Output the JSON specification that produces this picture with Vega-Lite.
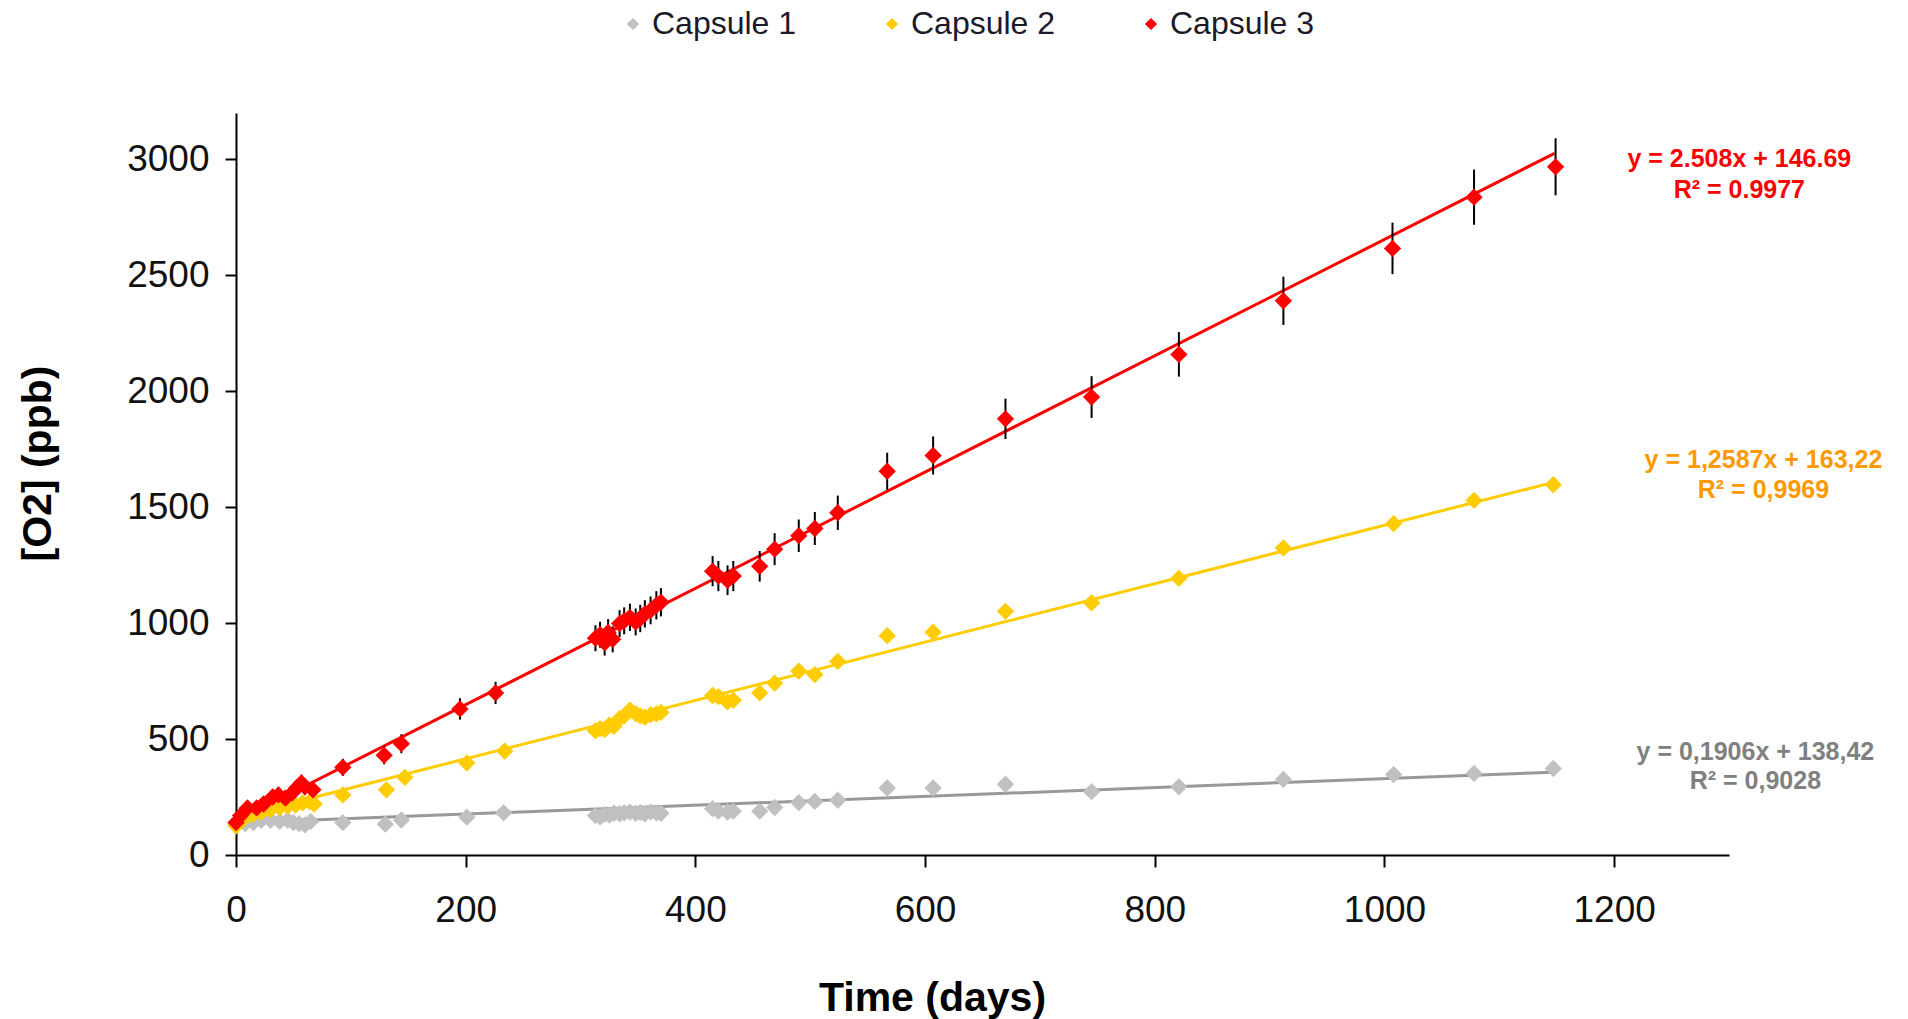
{
  "$schema": "https://vega.github.io/schema/vega-lite/v6.json",
  "autosize": {"type": "none"},
  "padding": {"left": 236, "top": 113, "right": 179, "bottom": 164},
  "width": 1493,
  "height": 742,
  "background": "white",
  "config": {
    "view": {"stroke": null},
    "font": "Liberation Sans",
    "axis": {"grid": false, "labelFont": "Liberation Sans", "titleFont": "Liberation Sans", "labelColor": "#111111", "titleColor": "#000000", "domainColor": "#000000", "tickColor": "#000000", "domainWidth": 2, "tickWidth": 2, "labelFlush": false, "labelOverlap": false}
  },
  "datasets": {
    "obs": [
      {"series": "Capsule 1", "day": 0, "ppb": 130},
      {"series": "Capsule 1", "day": 8, "ppb": 135},
      {"series": "Capsule 1", "day": 15, "ppb": 140},
      {"series": "Capsule 1", "day": 22, "ppb": 150},
      {"series": "Capsule 1", "day": 30, "ppb": 150},
      {"series": "Capsule 1", "day": 38, "ppb": 145},
      {"series": "Capsule 1", "day": 45, "ppb": 150},
      {"series": "Capsule 1", "day": 50, "ppb": 140},
      {"series": "Capsule 1", "day": 55, "ppb": 135},
      {"series": "Capsule 1", "day": 60, "ppb": 130},
      {"series": "Capsule 1", "day": 65, "ppb": 145},
      {"series": "Capsule 1", "day": 93, "ppb": 140},
      {"series": "Capsule 1", "day": 130, "ppb": 133},
      {"series": "Capsule 1", "day": 144, "ppb": 151},
      {"series": "Capsule 1", "day": 201, "ppb": 163},
      {"series": "Capsule 1", "day": 233, "ppb": 182},
      {"series": "Capsule 1", "day": 313, "ppb": 170},
      {"series": "Capsule 1", "day": 317, "ppb": 165},
      {"series": "Capsule 1", "day": 321, "ppb": 175},
      {"series": "Capsule 1", "day": 325, "ppb": 172},
      {"series": "Capsule 1", "day": 329, "ppb": 180},
      {"series": "Capsule 1", "day": 334, "ppb": 178},
      {"series": "Capsule 1", "day": 338, "ppb": 182},
      {"series": "Capsule 1", "day": 343, "ppb": 185},
      {"series": "Capsule 1", "day": 348, "ppb": 180},
      {"series": "Capsule 1", "day": 352, "ppb": 183},
      {"series": "Capsule 1", "day": 356, "ppb": 178},
      {"series": "Capsule 1", "day": 361, "ppb": 185},
      {"series": "Capsule 1", "day": 366, "ppb": 182},
      {"series": "Capsule 1", "day": 370, "ppb": 180},
      {"series": "Capsule 1", "day": 415, "ppb": 200},
      {"series": "Capsule 1", "day": 420, "ppb": 189},
      {"series": "Capsule 1", "day": 428, "ppb": 185},
      {"series": "Capsule 1", "day": 433, "ppb": 189},
      {"series": "Capsule 1", "day": 456, "ppb": 189},
      {"series": "Capsule 1", "day": 469, "ppb": 205},
      {"series": "Capsule 1", "day": 490, "ppb": 226},
      {"series": "Capsule 1", "day": 504, "ppb": 231},
      {"series": "Capsule 1", "day": 524, "ppb": 236},
      {"series": "Capsule 1", "day": 567, "ppb": 289},
      {"series": "Capsule 1", "day": 607, "ppb": 289},
      {"series": "Capsule 1", "day": 670, "ppb": 305},
      {"series": "Capsule 1", "day": 745, "ppb": 273},
      {"series": "Capsule 1", "day": 821, "ppb": 294},
      {"series": "Capsule 1", "day": 912, "ppb": 326},
      {"series": "Capsule 1", "day": 1008, "ppb": 347},
      {"series": "Capsule 1", "day": 1078, "ppb": 352},
      {"series": "Capsule 1", "day": 1147, "ppb": 373},
      {"series": "Capsule 2", "day": 0, "ppb": 125},
      {"series": "Capsule 2", "day": 5, "ppb": 150},
      {"series": "Capsule 2", "day": 10, "ppb": 170},
      {"series": "Capsule 2", "day": 15, "ppb": 175},
      {"series": "Capsule 2", "day": 22, "ppb": 185},
      {"series": "Capsule 2", "day": 30, "ppb": 195},
      {"series": "Capsule 2", "day": 38, "ppb": 205},
      {"series": "Capsule 2", "day": 45, "ppb": 210},
      {"series": "Capsule 2", "day": 52, "ppb": 215},
      {"series": "Capsule 2", "day": 58, "ppb": 225},
      {"series": "Capsule 2", "day": 64, "ppb": 230},
      {"series": "Capsule 2", "day": 68, "ppb": 220},
      {"series": "Capsule 2", "day": 93, "ppb": 259},
      {"series": "Capsule 2", "day": 131, "ppb": 281},
      {"series": "Capsule 2", "day": 147, "ppb": 335},
      {"series": "Capsule 2", "day": 201, "ppb": 397},
      {"series": "Capsule 2", "day": 234, "ppb": 448},
      {"series": "Capsule 2", "day": 313, "ppb": 536},
      {"series": "Capsule 2", "day": 317, "ppb": 545},
      {"series": "Capsule 2", "day": 321, "ppb": 541},
      {"series": "Capsule 2", "day": 325, "ppb": 560},
      {"series": "Capsule 2", "day": 329, "ppb": 555},
      {"series": "Capsule 2", "day": 334, "ppb": 588},
      {"series": "Capsule 2", "day": 338, "ppb": 600},
      {"series": "Capsule 2", "day": 343, "ppb": 625},
      {"series": "Capsule 2", "day": 348, "ppb": 610},
      {"series": "Capsule 2", "day": 352, "ppb": 600},
      {"series": "Capsule 2", "day": 356, "ppb": 594},
      {"series": "Capsule 2", "day": 361, "ppb": 605},
      {"series": "Capsule 2", "day": 366, "ppb": 609},
      {"series": "Capsule 2", "day": 370, "ppb": 615},
      {"series": "Capsule 2", "day": 415, "ppb": 688},
      {"series": "Capsule 2", "day": 420, "ppb": 683},
      {"series": "Capsule 2", "day": 428, "ppb": 660},
      {"series": "Capsule 2", "day": 433, "ppb": 667},
      {"series": "Capsule 2", "day": 456, "ppb": 699},
      {"series": "Capsule 2", "day": 469, "ppb": 741},
      {"series": "Capsule 2", "day": 490, "ppb": 793},
      {"series": "Capsule 2", "day": 504, "ppb": 778},
      {"series": "Capsule 2", "day": 524, "ppb": 835},
      {"series": "Capsule 2", "day": 567, "ppb": 946},
      {"series": "Capsule 2", "day": 607, "ppb": 961},
      {"series": "Capsule 2", "day": 670, "ppb": 1051},
      {"series": "Capsule 2", "day": 745, "ppb": 1088},
      {"series": "Capsule 2", "day": 821, "ppb": 1193},
      {"series": "Capsule 2", "day": 912, "ppb": 1324},
      {"series": "Capsule 2", "day": 1008, "ppb": 1429},
      {"series": "Capsule 2", "day": 1078, "ppb": 1529},
      {"series": "Capsule 2", "day": 1147, "ppb": 1597},
      {"series": "Capsule 3", "day": 0, "ppb": 140, "err": 30},
      {"series": "Capsule 3", "day": 4, "ppb": 170, "err": 30},
      {"series": "Capsule 3", "day": 10, "ppb": 203, "err": 32},
      {"series": "Capsule 3", "day": 18, "ppb": 203, "err": 32},
      {"series": "Capsule 3", "day": 24, "ppb": 220, "err": 32},
      {"series": "Capsule 3", "day": 32, "ppb": 250, "err": 33},
      {"series": "Capsule 3", "day": 37, "ppb": 259, "err": 34},
      {"series": "Capsule 3", "day": 43, "ppb": 245, "err": 33},
      {"series": "Capsule 3", "day": 49, "ppb": 268, "err": 34},
      {"series": "Capsule 3", "day": 53, "ppb": 290, "err": 35},
      {"series": "Capsule 3", "day": 57, "ppb": 311, "err": 35},
      {"series": "Capsule 3", "day": 60, "ppb": 294, "err": 35},
      {"series": "Capsule 3", "day": 67, "ppb": 281, "err": 34},
      {"series": "Capsule 3", "day": 93, "ppb": 378, "err": 37},
      {"series": "Capsule 3", "day": 129, "ppb": 430, "err": 39},
      {"series": "Capsule 3", "day": 144, "ppb": 480, "err": 41},
      {"series": "Capsule 3", "day": 195, "ppb": 630, "err": 46},
      {"series": "Capsule 3", "day": 226, "ppb": 699, "err": 48},
      {"series": "Capsule 3", "day": 313, "ppb": 935, "err": 56},
      {"series": "Capsule 3", "day": 317, "ppb": 950, "err": 56},
      {"series": "Capsule 3", "day": 321, "ppb": 915, "err": 55},
      {"series": "Capsule 3", "day": 324, "ppb": 960, "err": 57},
      {"series": "Capsule 3", "day": 328, "ppb": 930, "err": 56},
      {"series": "Capsule 3", "day": 334, "ppb": 998, "err": 58},
      {"series": "Capsule 3", "day": 338, "ppb": 1010, "err": 58},
      {"series": "Capsule 3", "day": 343, "ppb": 1025, "err": 59},
      {"series": "Capsule 3", "day": 348, "ppb": 1005, "err": 58},
      {"series": "Capsule 3", "day": 352, "ppb": 1020, "err": 59},
      {"series": "Capsule 3", "day": 356, "ppb": 1040, "err": 59},
      {"series": "Capsule 3", "day": 361, "ppb": 1055, "err": 60},
      {"series": "Capsule 3", "day": 366, "ppb": 1077, "err": 61},
      {"series": "Capsule 3", "day": 370, "ppb": 1090, "err": 61},
      {"series": "Capsule 3", "day": 415, "ppb": 1224, "err": 65},
      {"series": "Capsule 3", "day": 420, "ppb": 1203, "err": 65},
      {"series": "Capsule 3", "day": 428, "ppb": 1185, "err": 64},
      {"series": "Capsule 3", "day": 433, "ppb": 1203, "err": 65},
      {"series": "Capsule 3", "day": 456, "ppb": 1245, "err": 66},
      {"series": "Capsule 3", "day": 469, "ppb": 1319, "err": 69},
      {"series": "Capsule 3", "day": 490, "ppb": 1377, "err": 70},
      {"series": "Capsule 3", "day": 504, "ppb": 1408, "err": 71},
      {"series": "Capsule 3", "day": 524, "ppb": 1476, "err": 74},
      {"series": "Capsule 3", "day": 567, "ppb": 1655, "err": 80},
      {"series": "Capsule 3", "day": 607, "ppb": 1723, "err": 82},
      {"series": "Capsule 3", "day": 670, "ppb": 1881, "err": 87},
      {"series": "Capsule 3", "day": 745, "ppb": 1975, "err": 90},
      {"series": "Capsule 3", "day": 821, "ppb": 2159, "err": 96},
      {"series": "Capsule 3", "day": 912, "ppb": 2390, "err": 104},
      {"series": "Capsule 3", "day": 1007, "ppb": 2616, "err": 111},
      {"series": "Capsule 3", "day": 1078, "ppb": 2837, "err": 119},
      {"series": "Capsule 3", "day": 1149, "ppb": 2968, "err": 123}
    ],
    "fits": [
      {"series": "Capsule 1", "day": 0, "ppb": 138.42},
      {"series": "Capsule 1", "day": 1148, "ppb": 357.2},
      {"series": "Capsule 2", "day": 0, "ppb": 163.22},
      {"series": "Capsule 2", "day": 1148, "ppb": 1608.2},
      {"series": "Capsule 3", "day": 0, "ppb": 146.69},
      {"series": "Capsule 3", "day": 1148, "ppb": 3025.9}
    ],
    "notes": [
      {"series": "Capsule 3", "day": 1309, "ppb": 3000, "text": "y = 2.508x  + 146.69"},
      {"series": "Capsule 3", "day": 1309, "ppb": 2870, "text": "R² = 0.9977"},
      {"series": "Capsule 2", "day": 1330, "ppb": 1705, "text": "y = 1,2587x  + 163,22"},
      {"series": "Capsule 2", "day": 1330, "ppb": 1575, "text": "R² = 0,9969"},
      {"series": "Capsule 1", "day": 1323, "ppb": 445, "text": "y = 0,1906x  + 138,42"},
      {"series": "Capsule 1", "day": 1323, "ppb": 320, "text": "R² = 0,9028"}
    ]
  },
  "encoding": {
    "x": {
      "field": "day", "type": "quantitative",
      "scale": {"domain": [0, 1300], "nice": false, "zero": true},
      "axis": {"title": "Time (days)", "format": "d", "values": [0, 200, 400, 600, 800, 1000, 1200], "tickSize": 12, "labelFontSize": 37, "labelPadding": 25, "titleFontSize": 41, "titleFontWeight": "bold", "titlePadding": 50, "titleX": 696}
    },
    "y": {
      "field": "ppb", "type": "quantitative",
      "scale": {"domain": [0, 3200], "nice": false},
      "axis": {"title": "[O2] (ppb)", "format": "d", "values": [0, 500, 1000, 1500, 2000, 2500, 3000], "tickSize": 11, "labelFontSize": 37, "labelPadding": 16, "titleFontSize": 41, "titleFontWeight": "bold", "titlePadding": 67, "titleY": 350}
    }
  },
  "layer": [
    {
      "data": {"name": "fits"},
      "mark": {"type": "line", "strokeWidth": 3},
      "encoding": {
        "color": {"field": "series", "type": "nominal", "scale": {"domain": ["Capsule 1", "Capsule 2", "Capsule 3"], "range": ["#999999", "#ffcc00", "#ff0000"]}, "legend": null}
      }
    },
    {
      "data": {"name": "obs"},
      "transform": [{"filter": "datum.series === 'Capsule 3'"}],
      "mark": {"type": "errorbar", "ticks": false, "rule": {"color": "#000000", "strokeWidth": 2}},
      "encoding": {
        "x": {"field": "day", "type": "quantitative"},
        "y": {"field": "ppb", "type": "quantitative"},
        "yError": {"field": "err"}
      }
    },
    {
      "data": {"name": "obs"},
      "mark": {"type": "point", "shape": "diamond", "filled": true, "size": 300, "opacity": 1, "strokeWidth": 0},
      "encoding": {
        "color": {
          "field": "series", "type": "nominal",
          "scale": {"domain": ["Capsule 1", "Capsule 2", "Capsule 3"], "range": ["#c0c0c0", "#ffcc00", "#ff0000"]},
          "legend": {"orient": "none", "legendX": 381, "legendY": -105, "direction": "horizontal", "title": null, "symbolType": "diamond", "symbolSize": 150, "symbolStrokeWidth": 0, "labelFontSize": 32, "labelFont": "Liberation Sans", "labelColor": "#1a1a2a", "columnPadding": 79, "labelOffset": 3}
        }
      }
    },
    {
      "data": {"name": "notes"},
      "transform": [{"filter": "datum.series === 'Capsule 3'"}],
      "mark": {"type": "text", "fontSize": 25, "fontWeight": "bold", "color": "#ff0000", "align": "center", "baseline": "middle"},
      "encoding": {"text": {"field": "text"}}
    },
    {
      "data": {"name": "notes"},
      "transform": [{"filter": "datum.series === 'Capsule 2'"}],
      "mark": {"type": "text", "fontSize": 25, "fontWeight": "bold", "color": "#ff9900", "align": "center", "baseline": "middle"},
      "encoding": {"text": {"field": "text"}}
    },
    {
      "data": {"name": "notes"},
      "transform": [{"filter": "datum.series === 'Capsule 1'"}],
      "mark": {"type": "text", "fontSize": 25, "fontWeight": "bold", "color": "#808080", "align": "center", "baseline": "middle"},
      "encoding": {"text": {"field": "text"}}
    }
  ],
  "resolve": {"scale": {"color": "independent"}}
}
